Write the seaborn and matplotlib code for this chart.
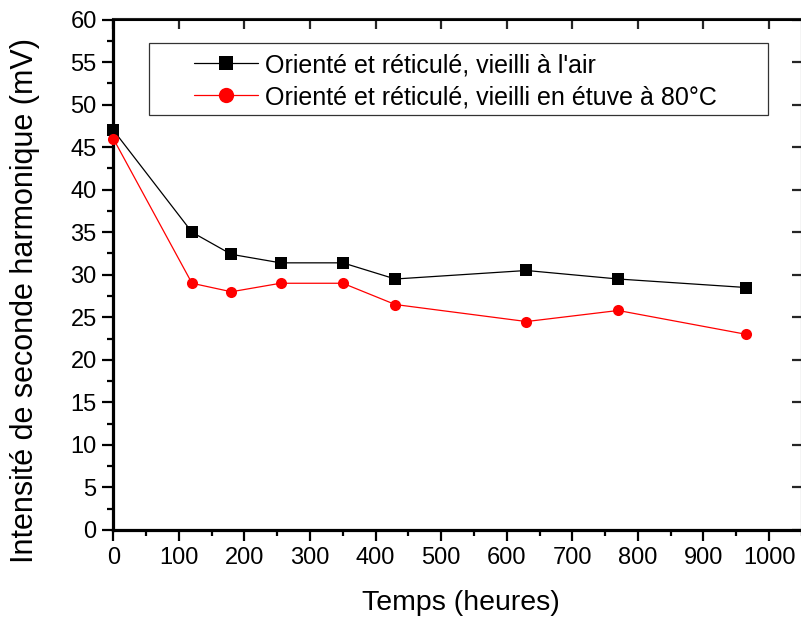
import matplotlib
matplotlib.use("Agg")
import matplotlib.pyplot as plt
import pandas as pd
import seaborn as sns
from matplotlib.patches import Rectangle
from matplotlib.lines import Line2D
from matplotlib.ticker import MultipleLocator

# data
temps = [0, 120, 180, 255, 350, 430, 630, 770, 965]
air = [47.0, 35.0, 32.4, 31.4, 31.4, 29.5, 30.5, 29.5, 28.5]
etuve = [46.0, 29.0, 28.0, 29.0, 29.0, 26.5, 24.5, 25.8, 23.0]
labels = ["Orienté et réticulé, vieilli à l'air",
          "Orienté et réticulé, vieilli en étuve à 80°C"]

df = pd.DataFrame({
    "temps": temps + temps,
    "intensite": air + etuve,
    "serie": [labels[0]] * len(temps) + [labels[1]] * len(temps),
})

sns.set_style("ticks")
plt.rcParams['font.family'] = ['Liberation Sans', 'DejaVu Sans']
plt.rcParams['text.color'] = 'black'
plt.rcParams['axes.labelcolor'] = 'black'

W, H = 801, 619
fig = plt.figure(figsize=(W / 100, H / 100), dpi=100)
ax = fig.add_axes([113.3 / W, 89 / H, 688.5 / W, 510.5 / H])

sns.lineplot(data=df, x="temps", y="intensite", hue="serie", style="serie",
             markers=["s", "o"], dashes=False, palette=["black", "red"],
             linewidth=0.9, markersize=8, markeredgewidth=0, ax=ax,
             legend=False, clip_on=False, zorder=5)

ax.set_xlim(0, 1050)
ax.set_ylim(0, 60)
ax.xaxis.set_major_locator(MultipleLocator(100))
ax.xaxis.set_minor_locator(MultipleLocator(50))
ax.yaxis.set_major_locator(MultipleLocator(5))
ax.yaxis.set_minor_locator(MultipleLocator(2.5))
ax.set_xticks(range(0, 1001, 100))

ax.tick_params(which="major", direction="out", length=8, width=1.6,
               labelsize=17, pad=4, color="black", labelcolor="black")
ax.tick_params(which="minor", direction="out", length=4.5, width=1.6, color="black")

for side in ["left", "bottom"]:
    ax.spines[side].set_linewidth(2.3)
    ax.spines[side].set_color("black")
for side in ["top", "right"]:
    ax.spines[side].set_visible(True)
    ax.spines[side].set_linewidth(1.5)
    ax.spines[side].set_color("black")

# inward ticks on top and right, no labels
top = ax.secondary_xaxis("top")
top.set_xticks(range(0, 1001, 100))
top.tick_params(direction="in", length=7.5, width=1.6, labeltop=False)
top.spines["top"].set_linewidth(1.5)
right = ax.secondary_yaxis("right")
right.set_yticks(range(0, 61, 5))
right.tick_params(direction="in", length=7.5, width=1.6, labelright=False)

ax.set_xlabel("Temps (heures)", fontsize=20.5)
ax.set_ylabel("Intensité de seconde harmonique (mV)", fontsize=22)
ax.xaxis.set_label_coords(0.505, -0.117)
ax.yaxis.set_label_coords(-0.107, 0.45)

# legend: framed box with left-aligned entries
handles = [Line2D([], [], color="black", lw=0.9, marker="s", markersize=9.5, markeredgewidth=0),
           Line2D([], [], color="red", lw=0.9, marker="o", markersize=11, markeredgewidth=0)]
box_x0 = (148.7 - 113.3) / 688.5
box_x1 = (768 - 113.3) / 688.5
box_y0 = (530 - 115) / 510.5
box_y1 = (530 - 43.3) / 510.5
ax.add_patch(Rectangle((box_x0, box_y0), box_x1 - box_x0, box_y1 - box_y0,
                       transform=ax.transAxes, fill=False, edgecolor="#333333",
                       linewidth=0.9, zorder=6))
leg = ax.legend(handles, labels, loc="upper left",
                bbox_to_anchor=((194 - 113.3) / 688.5, (530 - 53) / 510.5),
                frameon=False, fontsize=18, handlelength=2.55, handletextpad=0.3,
                borderpad=0, borderaxespad=0, labelspacing=0.32)

fig.savefig("out.png", dpi=100)
